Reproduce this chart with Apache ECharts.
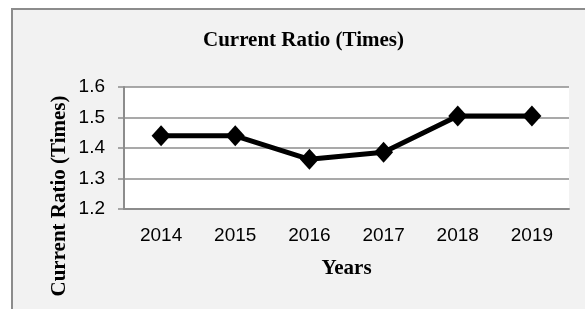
<!DOCTYPE html>
<html>
<head>
<meta charset="utf-8">
<script src="https://cdn.jsdelivr.net/npm/echarts@6/dist/echarts.min.js"></script>
<style>
  html, body { margin: 0; padding: 0; background: #fff; }
  #main { width: 585px; height: 309px; }
</style>
</head>
<body>
<div id="main"></div>
<script>
// data
const years = ["2014", "2015", "2016", "2017", "2018", "2019"];
const currentRatio = [1.44, 1.44, 1.363, 1.386, 1.505, 1.505];
const yMin = 1.2;
const yMax = 1.6;
const yStep = 0.1;

const chart = echarts.init(document.getElementById("main"));

const serif = "'Liberation Serif', 'Times New Roman', serif";
const sans = "'Liberation Sans', Arial, sans-serif";
const gray = "#8c8c8c";

chart.setOption({
  animation: false,
  backgroundColor: "#fff",
  graphic: [
    {
      // outer chart box (only top and left edges show)
      type: "rect",
      z: -10,
      shape: { x: 12, y: 9, width: 600, height: 320 },
      style: { fill: "#f2f2f2", stroke: gray, lineWidth: 2 },
    },
    {
      type: "text",
      x: 60,
      y: 196,
      rotation: Math.PI / 2,
      style: {
        text: "Current Ratio (Times)",
        font: "bold 21px " + serif,
        fill: "#000",
        align: "center",
        verticalAlign: "middle",
      },
    },
  ],
  title: {
    text: "Current Ratio (Times)",
    left: 203,
    top: 30,
    padding: 0,
    textStyle: { fontFamily: serif, fontWeight: "bold", fontSize: 21, color: "#000" },
  },
  grid: {
    left: 124,
    right: 16,
    top: 87,
    bottom: 100,
    show: true,
    backgroundColor: "#fff",
    borderWidth: 0,
  },
  xAxis: {
    type: "category",
    data: years,
    name: "Years",
    nameLocation: "middle",
    nameGap: 49,
    nameTextStyle: { fontFamily: serif, fontWeight: "bold", fontSize: 21, color: "#000" },
    axisLine: { lineStyle: { color: gray, width: 2 } },
    axisTick: { show: false },
    axisLabel: { fontFamily: sans, fontSize: 19, color: "#000", margin: 17 },
  },
  yAxis: {
    type: "value",
    min: yMin,
    max: yMax,
    interval: yStep,
    axisLine: { show: true, lineStyle: { color: gray, width: 2 } },
    axisTick: { show: true, length: 6, lineStyle: { color: gray, width: 1.5 } },
    axisLabel: {
      fontFamily: sans,
      fontSize: 19,
      color: "#000",
      margin: 19,
      formatter: v => v.toFixed(1),
    },
    splitLine: { lineStyle: { color: gray, width: 1.5 } },
  },
  series: [
    {
      type: "line",
      data: currentRatio,
      symbol: "diamond",
      symbolSize: [19, 21],
      lineStyle: { color: "#000", width: 5 },
      itemStyle: { color: "#000" },
    },
  ],
});
</script>
</body>
</html>
